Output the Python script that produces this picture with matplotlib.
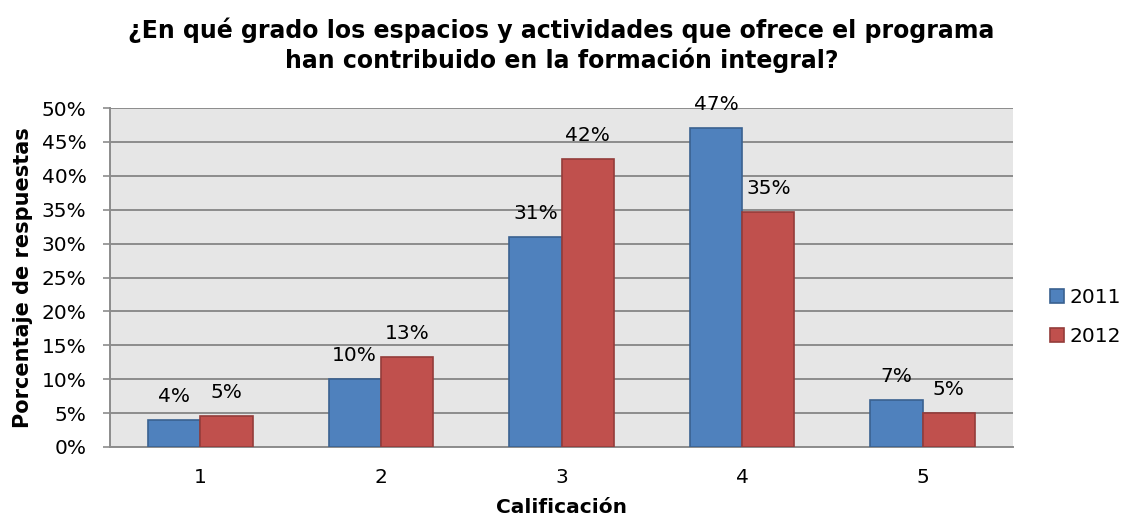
import numpy as np
import matplotlib
matplotlib.use("Agg")
import matplotlib.pyplot as plt
from matplotlib.ticker import FuncFormatter

plt.rcParams['font.family'] = ['DejaVu Sans']

categories = ['1', '2', '3', '4', '5']
series_names = ['2011', '2012']
values_2011 = [4.0, 10.0, 31.0, 47.0, 7.0]
values_2012 = [4.6, 13.3, 42.5, 34.7, 5.0]
labels_2011 = ['4%', '10%', '31%', '47%', '7%']
labels_2012 = ['5%', '13%', '42%', '35%', '5%']

fig = plt.figure(figsize=(11.26, 5.19), dpi=100)
# plot area (pixels -> figure fraction)
ax = fig.add_axes([110 / 1126, 1 - 447 / 519, 903 / 1126, 339 / 519])
ax.set_facecolor('#e6e6e6')

x = np.arange(len(categories))
w = 0.29
b1 = ax.bar(x - w / 2, values_2011, w, color='#4f81bd', edgecolor='#3a6190',
            linewidth=1.2, label=series_names[0], zorder=3)
b2 = ax.bar(x + w / 2, values_2012, w, color='#c0504d', edgecolor='#943c3a',
            linewidth=1.2, label=series_names[1], zorder=3)

for bars, labs in ((b1, labels_2011), (b2, labels_2012)):
    for bar, lab in zip(bars, labs):
        ax.annotate(lab, (bar.get_x() + bar.get_width() / 2, bar.get_height()),
                    xytext=(0, 10), textcoords='offset points',
                    ha='center', va='bottom', fontsize=14.5)

ax.set_xlim(-0.5, len(categories) - 0.5)
ax.set_ylim(0, 50)
ax.set_yticks(np.arange(0, 51, 5))
ax.yaxis.set_major_formatter(FuncFormatter(lambda v, p: f'{v:.0f}%'))
ax.set_xticks(x)
ax.set_xticklabels(categories)
ax.tick_params(axis='x', labelsize=14.5, length=0, pad=15)
ax.tick_params(axis='y', labelsize=14.5, length=5, width=1.2, color='#8c8c8c', pad=12)
ax.grid(axis='y', color='#8c8c8c', linewidth=1.4, zorder=0)

for s in ('top', 'right'):
    ax.spines[s].set_visible(False)
ax.spines['left'].set_color('#8c8c8c')
ax.spines['bottom'].set_color('#8c8c8c')
ax.spines['left'].set_linewidth(1.4)
ax.spines['bottom'].set_linewidth(1.4)

ax.set_xlabel('Calificación', fontsize=14.5, fontweight='bold', labelpad=8)
ax.set_ylabel('Porcentaje de respuestas', fontsize=15, fontweight='bold', labelpad=6)
ax.set_title('¿En qué grado los espacios y actividades que ofrece el programa\n'
             'han contribuido en la formación integral?',
             fontsize=17, fontweight='bold', pad=29, linespacing=1.2)

ax.legend(loc='center left', bbox_to_anchor=(1.03, 0.383), frameon=False,
          fontsize=14.5, handlelength=0.7, handleheight=0.7, handletextpad=0.25,
          labelspacing=1.0, borderpad=0)

fig.savefig('out.png', dpi=100)
